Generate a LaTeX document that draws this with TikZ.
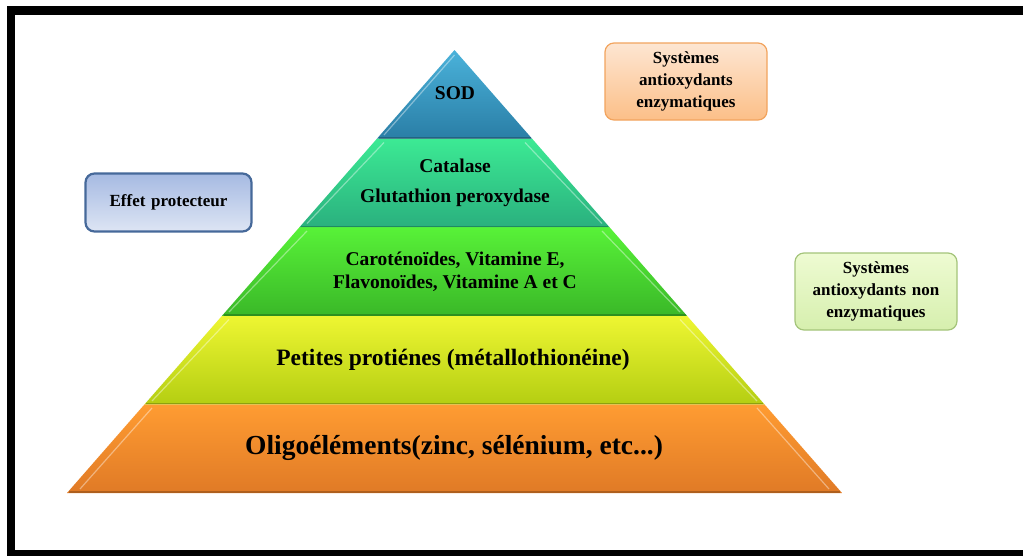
\documentclass[tikz,border=0pt]{standalone}
\usepackage{fontspec}
\setmainfont{Liberation Serif}
\definecolor{sodT}{HTML}{4AB2DA}
\definecolor{sodB}{HTML}{2A7EA6}
\definecolor{catT}{HTML}{3CEA94}
\definecolor{catB}{HTML}{2AB07E}
\definecolor{grT}{HTML}{58F238}
\definecolor{grB}{HTML}{3AB828}
\definecolor{yeT}{HTML}{EEF632}
\definecolor{yeB}{HTML}{B4CE12}
\definecolor{orT}{HTML}{FF9C32}
\definecolor{orB}{HTML}{E07A26}
\definecolor{pchT}{HTML}{FDE6D2}
\definecolor{pchB}{HTML}{FCBF88}
\definecolor{pchD}{HTML}{F2A45E}
\definecolor{bluT}{HTML}{A6BAE2}
\definecolor{bluB}{HTML}{DDE5F4}
\definecolor{bluD}{HTML}{46699A}
\definecolor{lgT}{HTML}{EEFBD2}
\definecolor{lgB}{HTML}{D6EFAE}
\definecolor{lgD}{HTML}{A4C47A}
\tikzset{
  x=1pt, y=-1pt,
  tierlabel/.style={font=\bfseries\fontsize{19.5}{23}\selectfont, align=center, inner sep=0pt},
  sidebox/.style={rounded corners=9pt, align=center, inner sep=0pt,
     font=\bfseries\fontsize{17}{22}\selectfont, text width=150pt},
  bevelline/.style={white, opacity=0.4, line width=1.2pt},
  botshadow/.style={black, opacity=0.22, line width=1.5pt}
}
\begin{document}
\begin{tikzpicture}
\useasboundingbox (0,0) rectangle (1023,555);
\fill[white] (0,0) rectangle (1023,555);
% frame
\draw[line width=8.5pt, black] (11,10.5) -- (1040,10.5);
\draw[line width=8.5pt, black] (11,6) -- (11,554);
\draw[line width=8.5pt, black] (7,554) -- (1040,554);

% pyramid tiers
\shade[top color=orT, bottom color=orB] (144.5,404.4) -- (764.5,404.4) -- (842,493) -- (67,493) -- cycle;
\shade[top color=yeT, bottom color=yeB] (222,315.8) -- (687,315.8) -- (764.5,404.4) -- (144.5,404.4) -- cycle;
\shade[top color=grT, bottom color=grB] (299.5,227.2) -- (609.5,227.2) -- (687,315.8) -- (222,315.8) -- cycle;
\shade[top color=catT, bottom color=catB] (377,138.6) -- (532,138.6) -- (609.5,227.2) -- (299.5,227.2) -- cycle;
\shade[top color=sodT, bottom color=sodB] (454.5,50) -- (532,138.6) -- (377,138.6) -- cycle;

% bevel highlights and bottom shadows
\draw[bevelline] (152,408) -- (80,489);
\draw[bevelline] (757,408) -- (829,489);
\draw[botshadow] (69,492) -- (840,492);
\draw[bevelline] (229,319.5) -- (152,401);
\draw[bevelline] (680,319.5) -- (757,401);
\draw[botshadow] (146,403.5) -- (763,403.5);
\draw[bevelline] (307,231) -- (229,312);
\draw[bevelline] (602,231) -- (680,312);
\draw[botshadow] (223.5,315) -- (685.5,315);
\draw[bevelline] (384,142.5) -- (307,223.5);
\draw[bevelline] (525,142.5) -- (602,223.5);
\draw[botshadow] (301,226.4) -- (608,226.4);
\draw[bevelline] (454.5,55) -- (384,135);
\draw[botshadow] (378.5,137.8) -- (530.5,137.8);

% tier labels
\node[tierlabel] (sod) at (455,93) {SOD};
\node[tierlabel] (cat) at (455,166) {Catalase};
\node[tierlabel] (gpx) at (455,198) {Glutathion peroxydase};
\node[tierlabel] (caro) at (455,271.5) {Caroténoïdes, Vitamine E,\\Flavonoïdes, Vitamine A et C};
\node[tierlabel, font=\bfseries\fontsize{23.5}{28}\selectfont] (pet) at (453,360) {Petites protiénes (métallothionéine)};
\node[tierlabel, font=\bfseries\fontsize{27.5}{32}\selectfont] (oligo) at (454,448) {Oligoéléments(zinc, sélénium, etc...)};

% side boxes
\node[sidebox, draw=pchD, line width=1.2pt, top color=pchT, bottom color=pchB,
      minimum width=162pt, minimum height=77pt] (enz) at (686,81.5)
      {Systèmes\\antioxydants\\enzymatiques};
\node[sidebox, draw=bluD, line width=2.2pt, top color=bluT, bottom color=bluB,
      minimum width=166pt, minimum height=58pt] (eff) at (168.5,202.5)
      {Effet protecteur};
\node[sidebox, draw=lgD, line width=1.2pt, top color=lgT, bottom color=lgB,
      minimum width=162pt, minimum height=77pt] (nonenz) at (876,291.5)
      {Systèmes\\antioxydants non\\enzymatiques};
\end{tikzpicture}
\end{document}
